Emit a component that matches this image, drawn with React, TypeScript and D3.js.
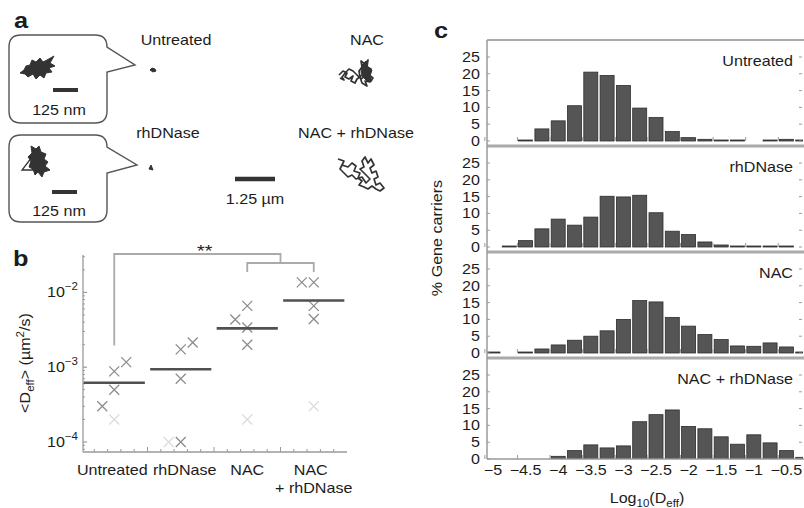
import React from "react"
import * as d3 from "d3"

// ── Data ───────────────────────────────────────────────────────────────────────

// panel b: per-experiment <Deff> (µm²/s) and group means
const groups = ["Untreated", "rhDNase", "NAC", "NAC + rhDNase"]
const groupMeans = [6.2e-4, 9.4e-4, 3.3e-3, 7.8e-3]
const untreatedDeff = [3.0e-4, 8.8e-4, 5.0e-4, 1.17e-3, 2.0e-4]
const rhdnaseDeff = [1.73e-3, 2.14e-3, 7.0e-4, 1.0e-4, 1.0e-4]
const nacDeff = [4.35e-3, 6.6e-3, 3.4e-3, 2.0e-3, 2.0e-4]
const nacRhdnaseDeff = [1.36e-2, 1.36e-2, 6.6e-3, 4.4e-3, 3.0e-4]
// jitter column of each point (-1 left, 0 centre, 1 right) and faint flag
const pointSlots = [
  [-1, 0, 0, 1, 0],
  [0, 1, 0, 0, -1],
  [-1, 0, 0, 0, 0],
  [-1, 0, 0, 0, 0],
]
const pointFaint = [false, false, false, false, true]
const deffTicks = [1e-4, 1e-3, 1e-2]
const deffTickExp = ["−4", "−3", "−2"]

// panel c: histograms of log10(Deff), % of gene carriers per 0.25 bin
const binCenters = [
  -5, -4.75, -4.5, -4.25, -4, -3.75, -3.5, -3.25, -3, -2.75, -2.5, -2.25, -2,
  -1.75, -1.5, -1.25, -1, -0.75, -0.5, -0.25,
]
const histUntreated = [
  0, 0, 0.3, 3.6, 6, 10.5, 20.5, 19.5, 16.5, 9.8, 7, 2.8, 1, 0.5, 0.2, 0.3, 0,
  0.1, 0.5, 0.2,
]
const histRhdnase = [
  0, 0.2, 1.9, 5.4, 8.3, 6.5, 8.9, 15.1, 14.9, 15.4, 10.2, 4.7, 3.7, 1.5, 0.6,
  0.3, 0.2, 0.3, 0.2, 0,
]
const histNac = [
  0.2, 0, 0.2, 1.2, 2.4, 3.8, 5, 6.6, 10, 15.6, 15.2, 10.6, 8, 5.5, 4, 2.1, 2,
  3, 1.8, 0.3,
]
const histNacRhdnase = [
  0, 0, 0, 0, 0.8, 2.5, 4.2, 3.3, 3.9, 11.1, 13.2, 14.6, 9.7, 9, 6.6, 4.4, 7.2,
  4.8, 2.5, 0.5,
]
const histTitles = ["Untreated", "rhDNase", "NAC", "NAC + rhDNase"]
const logTicks = [-5, -4.5, -4, -3.5, -3, -2.5, -2, -1.5, -1, -0.5]
const logTickLabels = ["−5", "−4.5", "−4", "−3.5", "−3", "−2.5", "−2", "−1.5", "−1", "−0.5"]
const pctTicks = [0, 5, 10, 15, 20, 25]

// panel a: hand-traced trajectory outlines (px, relative to each trace centre)
const insetBlobA = [
  [-17, 5], [-13, 2], [-11, -2], [-7, -3], [-5, -8], [-1, -6], [3, -10], [6, -6],
  [10, -8], [17, -12], [13, -5], [18, -2], [12, 0], [15, 4], [9, 5], [7, 10],
  [3, 7], [-1, 11], [-4, 6], [-9, 9], [-12, 6],
]
const insetBlobB = [
  [-6, -14], [-1, -11], [2, -14], [4, -8], [9, -6], [7, -1], [11, 2], [8, 6],
  [13, 10], [7, 12], [5, 17], [1, 12], [-2, 15], [-4, 9], [-8, 7], [-6, 1],
  [-9, -3], [-5, -7],
]
const insetTailB = [[-5, -3], [-15, 10], [-4, 10], [-6, 4]]
const tinyA = [[-3, 0], [-1, -2], [2, -1], [3, 1], [0, 2]]
const tinyB = [[-2, 1], [0, -3], [2, 2]]
const nacTrace = [
  [-18, 2], [-14, -2], [-10, 0], [-12, 4], [-8, 6], [-4, 3], [-6, 8], [-2, 10],
  [0, 6], [3, 4], [2, -2], [5, -6], [4, -12], [8, -9], [11, -13], [10, -6],
  [14, -4], [12, 2], [16, 5], [13, 9], [8, 8], [10, 13], [5, 10], [3, 4], [7, 0],
  [6, -4], [9, 2], [4, 6], [0, 2], [-4, -2], [-8, -4], [-11, -1], [-15, 4],
  [-13, 7], [-17, 5],
]
const nacCore = [[5, -8], [9, -12], [11, -6], [15, -3], [13, 3], [15, 8], [10, 8], [6, 4], [4, -1]]
const nacRhdTrace = [
  [-24, -14], [-18, -12], [-20, -8], [-14, -6], [-10, -10], [-6, -7], [-8, -2],
  [-2, 0], [-4, 5], [0, 8], [-3, 12], [2, 14], [6, 16], [10, 13], [14, 16],
  [18, 18], [22, 15], [18, 10], [14, 12], [12, 6], [16, 4], [14, -2], [10, 0],
  [8, -5], [12, -8], [9, -14], [6, -10], [3, -16], [0, -12], [2, -6], [-2, -4],
  [4, 2], [8, 6], [4, 10], [0, 4], [-6, 6], [-10, 2], [-14, 4], [-18, 0],
  [-22, -4], [-20, -8],
]

// ── Helpers ────────────────────────────────────────────────────────────────────

const FONT = "'Liberation Sans', Arial, Helvetica, sans-serif"
const SX = 1.15 // the source figure is stretched horizontally
const INK = "#1c1c1c"
const AXIS = "#9a9a9a"

function T({ x, y, anchor = "start", size = 14, bold = false, rotate = 0, children }: any) {
  const tf = `translate(${x},${y})` + (rotate ? ` rotate(${rotate})` : "") + ` scale(${SX},1)`
  return (
    <text transform={tf} textAnchor={anchor} fontSize={size} fontWeight={bold ? 700 : 400} fontFamily={FONT} fill={INK}>
      {children}
    </text>
  )
}

const lineGen = d3.line<number[]>().x(d => d[0]).y(d => d[1])
const shift = (pts: number[][], cx: number, cy: number) => pts.map(([x, y]) => [x + cx, y + cy])

function Callout({ x0, y0, x1, y1, tipX, tipY, p1 }: any) {
  const r = 12
  const d = `M${x0 + r},${y0} H${x1 - r} Q${x1},${y0} ${x1},${y0 + r} L${tipX},${tipY} L${x1},${p1}
    V${y1 - r} Q${x1},${y1} ${x1 - r},${y1} H${x0 + r} Q${x0},${y1} ${x0},${y1 - r} V${y0 + r} Q${x0},${y0} ${x0 + r},${y0} Z`
  return <path d={d} fill="none" stroke="#555" strokeWidth={1.4} />
}

// ── Panels ─────────────────────────────────────────────────────────────────────

function PanelA() {
  const dark = "#333"
  return (
    <g>
      <T x={14} y={28} size={22} bold>a</T>
      <Callout x0={9} y0={35} x1={107} y1={123} tipX={135} tipY={65} p1={72} />
      <Callout x0={9} y0={135} x1={107} y1={222} tipX={137} tipY={165} p1={173} />

      <path d={lineGen(shift(insetBlobA, 37, 68)) + "Z"} fill={dark} stroke={dark} strokeWidth={1} strokeLinejoin="round" />
      <path d={lineGen(shift(insetBlobB, 37, 160)) + "Z"} fill={dark} stroke={dark} strokeWidth={1} strokeLinejoin="round" />
      <path d={lineGen(shift(insetTailB, 37, 160)) || ""} fill="none" stroke={dark} strokeWidth={1.3} />
      <path d={lineGen(shift(tinyA, 153, 70)) + "Z"} fill={dark} stroke={dark} strokeWidth={1} />
      <path d={lineGen(shift(tinyB, 151, 168)) + "Z"} fill={dark} stroke={dark} strokeWidth={1} />
      <path d={lineGen(shift(nacTrace, 357, 73)) || ""} fill="none" stroke={dark} strokeWidth={1.7} strokeLinejoin="round" />
      <path d={lineGen(shift(nacCore, 357, 73)) + "Z"} fill={dark} stroke={dark} strokeWidth={1} />
      <path d={lineGen(shift(nacRhdTrace, 362, 173)) || ""} fill="none" stroke={dark} strokeWidth={1.7} strokeLinejoin="round" />

      <line x1={53} x2={78} y1={90} y2={90} stroke={dark} strokeWidth={4} />
      <line x1={52} x2={77} y1={192} y2={192} stroke={dark} strokeWidth={4} />
      <line x1={235} x2={275} y1={179} y2={179} stroke={dark} strokeWidth={4.5} />
      <T x={59} y={115} anchor="middle">125 nm</T>
      <T x={59} y={216} anchor="middle">125 nm</T>
      <T x={255} y={204} anchor="middle">1.25 µm</T>

      <T x={176} y={45} anchor="middle">Untreated</T>
      <T x={367} y={45} anchor="middle">NAC</T>
      <T x={168} y={138} anchor="middle">rhDNase</T>
      <T x={356} y={138} anchor="middle">NAC + rhDNase</T>
    </g>
  )
}

function PanelB() {
  const left = 83, right = 347, top = 255, bottom = 452
  const x = d3.scaleLinear().domain([0.5, 4.5]).range([81, 347])
  const y = d3.scaleLog().domain([Math.pow(10, -4.134), Math.pow(10, -1.5)]).range([bottom, top])
  const series = [untreatedDeff, rhdnaseDeff, nacDeff, nacRhdnaseDeff]
  const minor: number[] = []
  for (const dec of [1e-5, 1e-4, 1e-3, 1e-2]) for (let k = 2; k <= 9; k++) {
    const v = dec * k
    if (v > y.domain()[0] && v < y.domain()[1]) minor.push(v)
  }
  const xMinor = d3.range(0.7, 4.45, 0.2)
  const labelNudge = [-2, 4, 0, 0]
  const midR = (x(3) + x(4)) / 2
  const bracketFoot = y(1.95e-3)
  return (
    <g>
      <T x={13} y={266} size={22} bold>b</T>
      {/* axes */}
      <line x1={left} x2={left} y1={top} y2={bottom} stroke={AXIS} strokeWidth={1.3} />
      <line x1={left} x2={right} y1={bottom} y2={bottom} stroke={AXIS} strokeWidth={1.3} />
      {deffTicks.map(t => (
        <line key={t} x1={left} x2={left + 4} y1={y(t)} y2={y(t)} stroke={AXIS} strokeWidth={1.2} />
      ))}
      {minor.map(t => (
        <line key={t} x1={left} x2={left + 2} y1={y(t)} y2={y(t)} stroke={AXIS} strokeWidth={1} />
      ))}
      {xMinor.map(t => {
        const major = Math.abs(t - Math.round(t - 0.5) - 0.5) < 0.01
        return <line key={t} x1={x(t)} x2={x(t)} y1={bottom} y2={bottom - (major ? 5 : 3)} stroke={AXIS} strokeWidth={1} />
      })}
      {deffTicks.map((t, i) => (
        <T key={t} x={78} y={y(t) + 5} anchor="end">
          10<tspan dy={-7} fontSize={10}>{deffTickExp[i]}</tspan>
        </T>
      ))}
      <T x={30} y={363} anchor="middle" rotate={-90}>
        {"<D"}<tspan dy={4} fontSize={10}>eff</tspan><tspan dy={-4}>{"> (µm"}</tspan>
        <tspan dy={-6} fontSize={10}>2</tspan><tspan dy={6}>/s)</tspan>
      </T>

      {/* significance bracket */}
      <path
        d={`M${x(1)},${bracketFoot} V${top - 1} H${midR} V${top + 8} M${x(3)},${top + 17} V${top + 8} H${x(4)} V${top + 17}`}
        fill="none" stroke="#aaa" strokeWidth={1.8}
      />
      <T x={x(2.36)} y={257} anchor="middle" size={17}>**</T>

      {/* points */}
      {series.map((vals, gi) =>
        vals.map((v, k) => {
          const px = x(gi + 1 + pointSlots[gi][k] * 0.18)
          const py = y(v)
          return (
            <path key={`${gi}-${k}`} d={`M${px - 5},${py - 5}L${px + 5},${py + 5}M${px - 5},${py + 5}L${px + 5},${py - 5}`}
              stroke={pointFaint[k] ? "#dcdcdc" : "#8c8c8c"} strokeWidth={1.3} />
          )
        }),
      )}
      {groupMeans.map((m, gi) => (
        <line key={gi} x1={x(gi + 1 - 0.46)} x2={x(gi + 1 + 0.46)} y1={y(m)} y2={y(m)} stroke="#505050" strokeWidth={2.6} />
      ))}

      {/* category labels */}
      {groups.map((g, gi) =>
        g === "NAC + rhDNase" ? (
          <g key={g}>
            <T x={x(gi + 1) - 3} y={475} anchor="middle">NAC</T>
            <T x={x(gi + 1)} y={493} anchor="middle">+ rhDNase</T>
          </g>
        ) : (
          <T key={g} x={x(gi + 1) + labelNudge[gi]} y={475} anchor="middle">{g}</T>
        ),
      )}
    </g>
  )
}

function PanelC() {
  const L = 487, R = 803, TOP = 40, PITCH = 106
  const x = d3.scaleLinear().domain([-5, -0.5]).range([493, 786.4])
  const bw = 14
  const hists = [histUntreated, histRhdnase, histNac, histNacRhdnase]
  const bottom = TOP + 4 * PITCH - 5
  return (
    <g>
      <T x={434} y={38} size={22} bold>c</T>
      <defs>
        <clipPath id="c-clip">
          <rect x={L} y={TOP} width={R - L} height={bottom - TOP} />
        </clipPath>
      </defs>
      {hists.map((vals, i) => {
        const top = TOP + i * PITCH
        const zero = top + 101
        const y = d3.scaleLinear().domain([0, 25]).range([zero, zero - 84])
        return (
          <g key={i}>
            <g clipPath="url(#c-clip)">
              {vals.map((v, k) =>
                v > 0 ? (
                  <rect key={k} x={x(binCenters[k]) - bw / 2} y={Math.min(y(v), zero - 1)} width={bw}
                    height={Math.max(zero - y(v), 1)} fill="#555" stroke="#2e2e2e" strokeWidth={0.8} />
                ) : null,
              )}
            </g>
            {pctTicks.map(t => (
              <g key={t}>
                <line x1={L} x2={L + 3} y1={y(t)} y2={y(t)} stroke={AXIS} strokeWidth={1} />
                <line x1={R - 1} x2={R - 4} y1={y(t)} y2={y(t)} stroke={AXIS} strokeWidth={1} />
                <T x={480} y={y(t) + 5} anchor="end">{t}</T>
              </g>
            ))}
            {logTicks.map(t => (
              <line key={t} x1={x(t - 0.125)} x2={x(t - 0.125)} y1={zero} y2={zero - 4} stroke={AXIS} strokeWidth={1} />
            ))}
            <T x={793} y={top + 26} anchor="end">{histTitles[i]}</T>
            {/* frame top / separator */}
            <line x1={L} x2={R + 1} y1={top} y2={top} stroke="#aaa" strokeWidth={i === 0 ? 1.8 : 3} />
          </g>
        )
      })}
      <line x1={L} x2={L} y1={TOP} y2={bottom} stroke={AXIS} strokeWidth={1.5} />
      <line x1={L} x2={R + 1} y1={bottom} y2={bottom} stroke={AXIS} strokeWidth={1.5} />
      {logTicks.map((t, i) => (
        <T key={t} x={x(t)} y={475} anchor="middle">{logTickLabels[i]}</T>
      ))}
      <T x={647} y={503} anchor="middle">
        Log<tspan dy={4} fontSize={10}>10</tspan><tspan dy={-4}>(D</tspan>
        <tspan dy={4} fontSize={10}>eff</tspan><tspan dy={-4}>)</tspan>
      </T>
      <T x={442} y={238} anchor="middle" rotate={-90}>% Gene carriers</T>
    </g>
  )
}

export default function App() {
  return (
    <svg width={804} height={508} style={{ position: "absolute", left: 0, top: 0, background: "#fff" }}>
      <rect width={804} height={508} fill="#fff" />
      <PanelA />
      <PanelB />
      <PanelC />
    </svg>
  )
}
